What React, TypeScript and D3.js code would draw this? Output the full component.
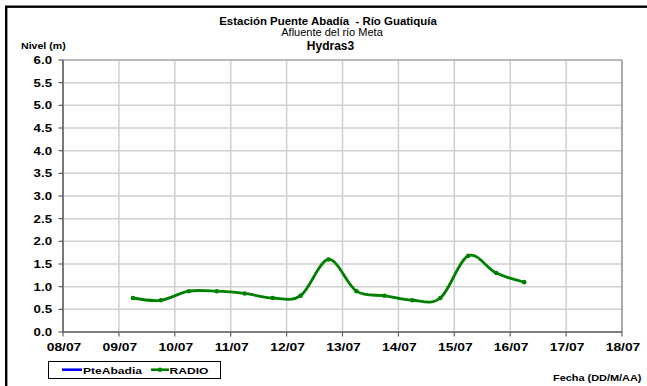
import React from "react";
import * as d3 from "d3";

const W = 647;
const H = 386;

const titleLines = ["Estación Puente Abadía  - Río Guatiquía", "Afluente del río Meta", "Hydras3"];
const yAxisTitle = "Nivel (m)";
const xAxisTitle = "Fecha (DD/M/AA)";
const seriesNames = ["PteAbadia", "RADIO"];
const seriesColors = ["#0000ff", "#008000"];

const radioDates = [
  "2011-07-09 06:00", "2011-07-09 18:00",
  "2011-07-10 06:00", "2011-07-10 18:00",
  "2011-07-11 06:00", "2011-07-11 18:00",
  "2011-07-12 06:00", "2011-07-12 18:00",
  "2011-07-13 06:00", "2011-07-13 18:00",
  "2011-07-14 06:00", "2011-07-14 18:00",
  "2011-07-15 06:00", "2011-07-15 18:00",
  "2011-07-16 06:00",
];
const radioValues = [0.75, 0.7, 0.9, 0.9, 0.85, 0.75, 0.8, 1.6, 0.9, 0.8, 0.7, 0.75, 1.68, 1.3, 1.1];

const xDomain = ["2011-07-08 00:00", "2011-07-18 00:00"];
const yTicks = [0, 0.5, 1, 1.5, 2, 2.5, 3, 3.5, 4, 4.5, 5, 5.5, 6];

const parse = d3.timeParse("%Y-%m-%d %H:%M");
const fmt = d3.timeFormat("%d/%m");

const M = { left: 63, right: 622, top: 60, bottom: 332 };

function SText({ x, y, sx = 1, size, bold = false, anchor = "start", children }: any) {
  return (
    <text
      transform={`translate(${x},${y}) scale(${sx},1)`}
      textAnchor={anchor}
      fontFamily="'Liberation Sans', Arial, sans-serif"
      fontSize={size}
      fontWeight={bold ? "bold" : "normal"}
      fill="#000"
      style={{ whiteSpace: "pre" }}
    >
      {children}
    </text>
  );
}

export default function App() {
  const x = d3
    .scaleTime()
    .domain(xDomain.map((d) => parse(d) as Date))
    .range([M.left, M.right]);
  const y = d3.scaleLinear().domain([0, 6]).range([M.bottom, M.top]);
  const xTicks = d3.timeDay.range(x.domain()[0], d3.timeDay.offset(x.domain()[1], 1));

  const pts = radioDates.map((d, i) => [x(parse(d) as Date), y(radioValues[i])] as [number, number]);
  const line = d3.line().curve(d3.curveCardinal.tension(0))(pts) || "";

  return (
    <svg
      width={W}
      height={H}
      style={{ position: "absolute", left: 0, top: 0, background: "#fff" }}
    >
      <rect x={0} y={0} width={W} height={H} fill="#fff" />
      <rect x={6.2} y={6.7} width={W + 20} height={H + 20} fill="none" stroke="#000" strokeWidth={2.4} />

      {/* grid */}
      {yTicks.map((t) => (
        <line key={"gy" + t} x1={M.left} x2={M.right} y1={y(t)} y2={y(t)} stroke="#cfcfcf" strokeWidth={1.5} />
      ))}
      {xTicks.map((t, i) => (
        <line key={"gx" + i} x1={x(t)} x2={x(t)} y1={M.top} y2={M.bottom} stroke="#cfcfcf" strokeWidth={1.5} />
      ))}
      {/* plot border */}
      <line x1={M.left} x2={M.right} y1={M.top} y2={M.top} stroke="#9a9a9a" strokeWidth={1} />
      <line x1={M.right} x2={M.right} y1={M.top} y2={M.bottom} stroke="#9a9a9a" strokeWidth={1.5} />
      {/* axes */}
      <line x1={M.left} x2={M.left} y1={M.top} y2={M.bottom} stroke="#606060" strokeWidth={1.6} />
      <line x1={M.left} x2={M.right} y1={M.bottom} y2={M.bottom} stroke="#606060" strokeWidth={1.6} />
      {yTicks.map((t) => (
        <line key={"ty" + t} x1={M.left - 4.5} x2={M.left} y1={y(t)} y2={y(t)} stroke="#606060" strokeWidth={1.2} />
      ))}
      {xTicks.map((t, i) => (
        <line key={"tx" + i} x1={x(t)} x2={x(t)} y1={M.bottom} y2={M.bottom + 4.5} stroke="#606060" strokeWidth={1.2} />
      ))}

      {/* tick labels */}
      {yTicks.map((t) => (
        <SText key={"ly" + t} x={52} y={y(t) + 4} sx={1.26} size={10.5} bold anchor="end">
          {t.toFixed(1)}
        </SText>
      ))}
      {xTicks.map((t, i) => (
        <SText key={"lx" + i} x={x(t) + 1} y={351} sx={1.26} size={11} bold anchor="middle">
          {fmt(t)}
        </SText>
      ))}

      {/* series */}
      <path d={line} fill="none" stroke={seriesColors[1]} strokeWidth={2.8} />
      {pts.map((p, i) => (
        <circle key={"m" + i} cx={p[0]} cy={p[1]} r={2.3} fill={seriesColors[1]} />
      ))}

      {/* titles */}
      <SText x={328} y={24.5} sx={1.04} size={11} bold anchor="middle">{titleLines[0]}</SText>
      <SText x={332} y={36} sx={1.0} size={11} anchor="middle">{titleLines[1]}</SText>
      <SText x={330.5} y={49.5} sx={1.0} size={12} bold anchor="middle">{titleLines[2]}</SText>
      <SText x={21} y={48.5} sx={1.15} size={9.2} bold>{yAxisTitle}</SText>
      <SText x={641.5} y={380.5} sx={1.15} size={9.5} bold anchor="end">{xAxisTitle}</SText>

      {/* legend */}
      <rect x={48.5} y={361.5} width={172} height={17} fill="#fff" stroke="#000" strokeWidth={1} />
      <line x1={62} x2={82} y1={369.7} y2={369.7} stroke={seriesColors[0]} strokeWidth={2.6} />
      <SText x={83} y={373.5} sx={1.3} size={9.3} bold>{seriesNames[0]}</SText>
      <line x1={151} x2={169} y1={369.7} y2={369.7} stroke={seriesColors[1]} strokeWidth={2.6} />
      <circle cx={160} cy={369.7} r={2.2} fill={seriesColors[1]} />
      <SText x={169.5} y={373.5} sx={1.3} size={9.3} bold>{seriesNames[1]}</SText>
    </svg>
  );
}
